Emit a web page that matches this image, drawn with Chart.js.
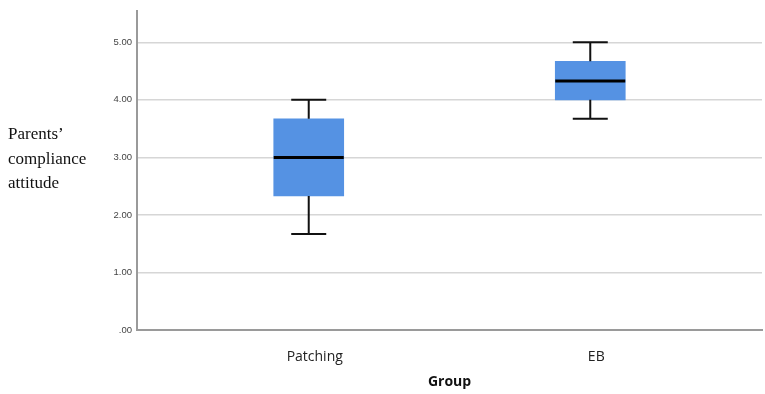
<!DOCTYPE html>
<html>
<head>
<meta charset="utf-8">
<script src="https://cdn.jsdelivr.net/npm/chart.js@4/dist/chart.umd.min.js"></script>
<style>
html,body{margin:0;padding:0;background:#fff;}
#wrap{width:765px;height:394px;position:relative;}
</style>
</head>
<body>
<div id="wrap"><canvas id="c" width="765" height="394"></canvas></div>
<script>
// ---- data ----
const categories = ['Patching', 'EB'];
const whiskerLow = [1.67, 3.67];
const q1 = [2.33, 4.00];
const median = [3.00, 4.33];
const q3 = [3.67, 4.67];
const whiskerHigh = [4.00, 5.00];
const yTickValues = [0, 1, 2, 3, 4, 5];
const yTickLabels = ['.00', '1.00', '2.00', '3.00', '4.00', '5.00'];
const yTitleLines = ['Parents\u2019', 'compliance', 'attitude'];
const xTitle = 'Group';

const boxColor = '#5592e3';

const whiskerPlugin = {
  id: 'whiskers',
  afterDatasetsDraw(chart) {
    const ctx = chart.ctx;
    const xs = chart.scales.x, ys = chart.scales.y;
    const meta = chart.getDatasetMeta(0);
    ctx.save();
    categories.forEach((c, i) => {
      const x = xs.getPixelForValue(i + 1);
      const w = meta.data[i].width;
      const capW = w / 2;
      ctx.strokeStyle = '#111';
      ctx.lineWidth = 2;
      ctx.beginPath();
      ctx.moveTo(x, ys.getPixelForValue(q3[i]));
      ctx.lineTo(x, ys.getPixelForValue(whiskerHigh[i]));
      ctx.moveTo(x, ys.getPixelForValue(q1[i]));
      ctx.lineTo(x, ys.getPixelForValue(whiskerLow[i]));
      ctx.moveTo(x - capW / 2, ys.getPixelForValue(whiskerHigh[i]));
      ctx.lineTo(x + capW / 2, ys.getPixelForValue(whiskerHigh[i]));
      ctx.moveTo(x - capW / 2, ys.getPixelForValue(whiskerLow[i]));
      ctx.lineTo(x + capW / 2, ys.getPixelForValue(whiskerLow[i]));
      ctx.stroke();
      ctx.lineWidth = 3;
      ctx.strokeStyle = '#000';
      ctx.beginPath();
      ctx.moveTo(x - w / 2, ys.getPixelForValue(median[i]));
      ctx.lineTo(x + w / 2, ys.getPixelForValue(median[i]));
      ctx.stroke();
    });
    ctx.restore();
  }
};

const yTitlePlugin = {
  id: 'ytitle',
  afterDraw(chart) {
    const ctx = chart.ctx;
    const a = chart.chartArea;
    ctx.save();
    ctx.font = '17px "Liberation Serif", "Times New Roman", serif';
    ctx.fillStyle = '#111';
    ctx.textAlign = 'left';
    ctx.textBaseline = 'middle';
    const lh = 24.5;
    const mid = (a.top + a.bottom) / 2 - 11;
    yTitleLines.forEach((t, k) => {
      ctx.fillText(t, 8, mid + (k - 1) * lh);
    });
    ctx.restore();
  }
};

new Chart(document.getElementById('c'), {
  type: 'bar',
  data: {
    datasets: [{
      data: categories.map((c, i) => ({ x: i + 1, y: [q1[i], q3[i]] })),
      backgroundColor: boxColor,
      borderWidth: 0,
      barThickness: 70
    }]
  },
  options: {
    responsive: false,
    animation: false,
    layout: { padding: { top: 5, right: 3, left: 0, bottom: 0 } },
    plugins: { legend: { display: false }, tooltip: { enabled: false } },
    scales: {
      x: {
        type: 'linear',
        offset: false,
        min: 0.39,
        max: 2.61,
        afterBuildTicks(scale) {
          scale.ticks = categories.map((c, i) => ({ value: i + 1 }));
        },
        afterFit(scale) { scale.height = 64; },
        grid: { display: false, drawTicks: false },
        border: { display: true, color: '#9a9a9a', width: 2 },
        ticks: {
          padding: 19,
          labelOffset: 6,
          color: '#222',
          font: { family: '"Open Sans", sans-serif', size: 14 },
          callback: (v) => categories[v - 1] ?? ''
        },
        title: {
          display: true,
          text: xTitle,
          color: '#111',
          font: { family: '"Open Sans", sans-serif', size: 14, weight: 'bold' },
          padding: { top: 0, bottom: 4 }
        }
      },
      y: {
        min: 0,
        max: 5.55,
        afterBuildTicks(scale) {
          scale.ticks = yTickValues.map(v => ({ value: v }));
        },
        afterFit(scale) { scale.width = 137; },
        grid: { color: '#d6d6d6', lineWidth: 1.5, drawTicks: false },
        border: { display: true, color: '#9a9a9a', width: 2 },
        ticks: {
          padding: 5,
          color: '#444',
          font: { family: '"Liberation Sans", Arial, sans-serif', size: 9.5 },
          callback: (v) => yTickLabels[yTickValues.indexOf(v)] ?? ''
        }
      }
    }
  },
  plugins: [whiskerPlugin, yTitlePlugin]
});
</script>
</body>
</html>
